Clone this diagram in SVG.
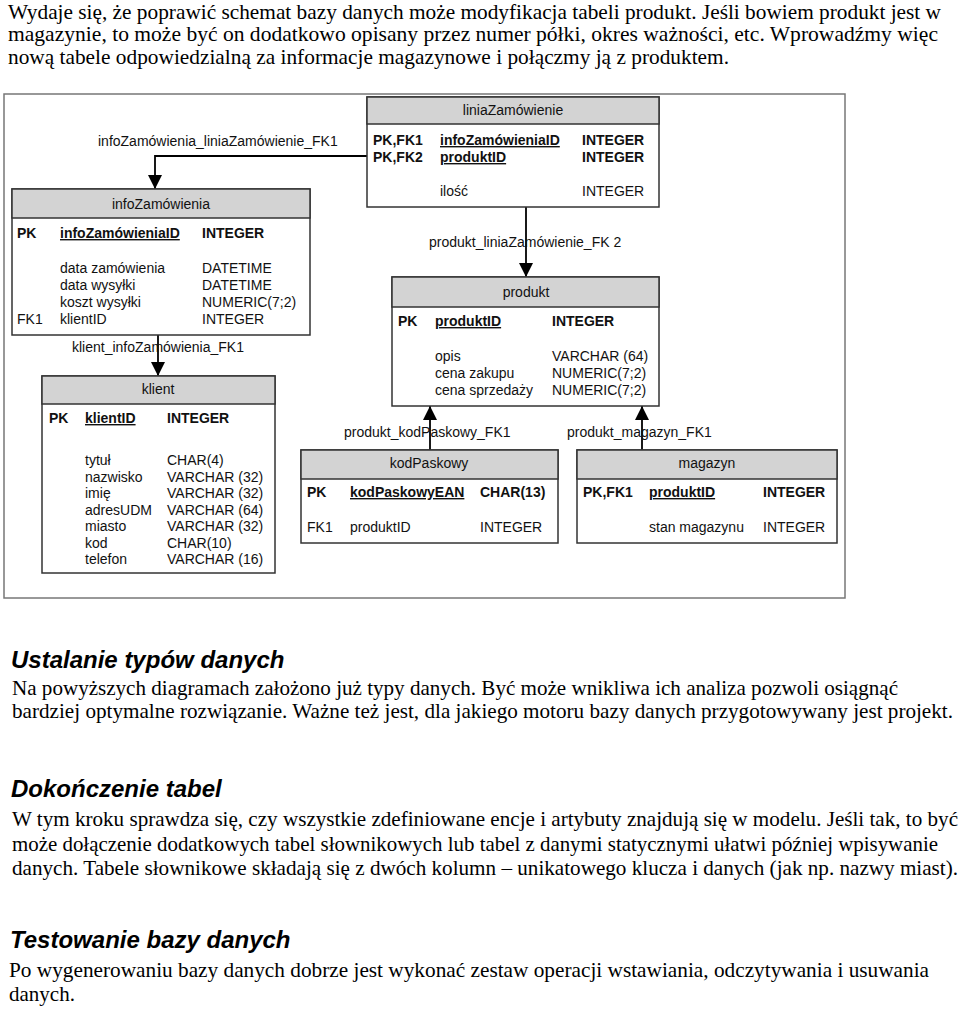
<svg xmlns="http://www.w3.org/2000/svg" width="960" height="1011" viewBox="0 0 960 1011">
<defs>
<style>
.frame{fill:none;stroke:#777;stroke-width:1.5}
.box{fill:#fff;stroke:#333;stroke-width:1.5}
.hdr{fill:#d3d3d3;stroke:#333;stroke-width:1.5}
.t{font-family:"Liberation Sans",Arial,sans-serif;font-size:14px;fill:#111}
.b{font-weight:bold}
.u{text-decoration:underline}
.c{text-anchor:middle}
.p{font-family:"Liberation Serif","Times New Roman",serif;font-size:21px;fill:#000}
.h{font-family:"Liberation Sans",Arial,sans-serif;font-size:24px;font-weight:bold;font-style:italic;fill:#000}
.conn{fill:none;stroke:#000;stroke-width:1.8}
</style>
<marker id="arr" viewBox="0 0 14 14" refX="14" refY="7" markerWidth="14" markerHeight="14" markerUnits="userSpaceOnUse" orient="auto">
<path d="M0,0 L14,7 L0,14 z" fill="#000"/>
</marker>
</defs>
<rect width="960" height="1011" fill="#fff"/>

<g id="intro">
<text class="p" x="8" y="19" textLength="933" lengthAdjust="spacingAndGlyphs">Wydaje się, że poprawić schemat bazy danych może modyfikacja tabeli produkt. Jeśli bowiem produkt jest w</text>
<text class="p" x="8" y="41" textLength="930" lengthAdjust="spacingAndGlyphs">magazynie, to może być on dodatkowo opisany przez numer półki, okres ważności, etc. Wprowadźmy więc</text>
<text class="p" x="8" y="64" textLength="721" lengthAdjust="spacingAndGlyphs">nową tabele odpowiedzialną za informacje magazynowe i połączmy ją z produktem.</text>
</g>

<rect class="frame" x="4" y="94" width="841" height="504"/>

<g id="connectors">
<path class="conn" d="M367,156 H155 V189" marker-end="url(#arr)"/>
<text class="t" x="98" y="146">infoZamówienia_liniaZamówienie_FK1</text>
<path class="conn" d="M526,207 V277" marker-end="url(#arr)"/>
<text class="t" x="429" y="247">produkt_liniaZamówienie_FK 2</text>
<path class="conn" d="M158,335 V376" marker-end="url(#arr)"/>
<text class="t" x="72" y="352">klient_infoZamówienia_FK1</text>
<path class="conn" d="M430,450 V406" marker-end="url(#arr)"/>
<text class="t" x="344" y="437">produkt_kodPaskowy_FK1</text>
<path class="conn" d="M642,450 V406" marker-end="url(#arr)"/>
<text class="t" x="567" y="437">produkt_magazyn_FK1</text>
</g>

<g id="liniaZamowienie">
<rect class="box" x="367" y="97" width="292" height="110"/>
<rect class="hdr" x="367" y="97" width="292" height="27"/>
<text class="t c" x="513" y="115">liniaZamówienie</text>
<text class="t b" x="373" y="145">PK,FK1</text>
<text class="t b u" x="440" y="145">infoZamówieniaID</text>
<text class="t b" x="582" y="145">INTEGER</text>
<text class="t b" x="373" y="162">PK,FK2</text>
<text class="t b u" x="440" y="162">produktID</text>
<text class="t b" x="582" y="162">INTEGER</text>
<text class="t" x="440" y="196">ilość</text>
<text class="t" x="582" y="196">INTEGER</text>
</g>

<g id="infoZamowienia">
<rect class="box" x="12" y="189" width="298" height="146"/>
<rect class="hdr" x="12" y="189" width="298" height="29"/>
<text class="t c" x="161" y="209">infoZamówienia</text>
<text class="t b" x="17" y="238">PK</text>
<text class="t b u" x="60" y="238">infoZamówieniaID</text>
<text class="t b" x="202" y="238">INTEGER</text>
<text class="t" x="60" y="273">data zamówienia</text>
<text class="t" x="202" y="273">DATETIME</text>
<text class="t" x="60" y="290">data wysyłki</text>
<text class="t" x="202" y="290">DATETIME</text>
<text class="t" x="60" y="307">koszt wysyłki</text>
<text class="t" x="202" y="307">NUMERIC(7;2)</text>
<text class="t" x="17" y="324">FK1</text>
<text class="t" x="60" y="324">klientID</text>
<text class="t" x="202" y="324">INTEGER</text>
</g>

<g id="produkt">
<rect class="box" x="392" y="277" width="267" height="129"/>
<rect class="hdr" x="392" y="277" width="267" height="30"/>
<text class="t c" x="526" y="297">produkt</text>
<text class="t b" x="398" y="326">PK</text>
<text class="t b u" x="435" y="326">produktID</text>
<text class="t b" x="552" y="326">INTEGER</text>
<text class="t" x="435" y="361">opis</text>
<text class="t" x="552" y="361">VARCHAR (64)</text>
<text class="t" x="435" y="378">cena zakupu</text>
<text class="t" x="552" y="378">NUMERIC(7;2)</text>
<text class="t" x="435" y="395">cena sprzedaży</text>
<text class="t" x="552" y="395">NUMERIC(7;2)</text>
</g>

<g id="klient">
<rect class="box" x="42" y="376" width="233" height="197"/>
<rect class="hdr" x="42" y="376" width="233" height="28"/>
<text class="t c" x="158" y="394">klient</text>
<text class="t b" x="49" y="423">PK</text>
<text class="t b u" x="85" y="423">klientID</text>
<text class="t b" x="167" y="423">INTEGER</text>
<text class="t" x="85" y="465">tytuł</text>
<text class="t" x="167" y="465">CHAR(4)</text>
<text class="t" x="85" y="481.5">nazwisko</text>
<text class="t" x="167" y="481.5">VARCHAR (32)</text>
<text class="t" x="85" y="498">imię</text>
<text class="t" x="167" y="498">VARCHAR (32)</text>
<text class="t" x="85" y="514.5">adresUDM</text>
<text class="t" x="167" y="514.5">VARCHAR (64)</text>
<text class="t" x="85" y="531">miasto</text>
<text class="t" x="167" y="531">VARCHAR (32)</text>
<text class="t" x="85" y="547.5">kod</text>
<text class="t" x="167" y="547.5">CHAR(10)</text>
<text class="t" x="85" y="564">telefon</text>
<text class="t" x="167" y="564">VARCHAR (16)</text>
</g>

<g id="kodPaskowy">
<rect class="box" x="301" y="450" width="257" height="93"/>
<rect class="hdr" x="301" y="450" width="257" height="29"/>
<text class="t c" x="429" y="468">kodPaskowy</text>
<text class="t b" x="307" y="497">PK</text>
<text class="t b u" x="350" y="497">kodPaskowyEAN</text>
<text class="t b" x="480" y="497">CHAR(13)</text>
<text class="t" x="307" y="532">FK1</text>
<text class="t" x="350" y="532">produktID</text>
<text class="t" x="480" y="532">INTEGER</text>
</g>

<g id="magazyn">
<rect class="box" x="577" y="450" width="260" height="93"/>
<rect class="hdr" x="577" y="450" width="260" height="29"/>
<text class="t c" x="707" y="468">magazyn</text>
<text class="t b" x="583" y="497">PK,FK1</text>
<text class="t b u" x="649" y="497">produktID</text>
<text class="t b" x="763" y="497">INTEGER</text>
<text class="t" x="649" y="532">stan magazynu</text>
<text class="t" x="763" y="532">INTEGER</text>
</g>

<g id="sections">
<text class="h" x="11" y="668">Ustalanie typów danych</text>
<text class="p" x="12" y="695" textLength="886" lengthAdjust="spacingAndGlyphs">Na powyższych diagramach założono już typy danych. Być może wnikliwa ich analiza pozwoli osiągnąć</text>
<text class="p" x="12" y="718" textLength="941" lengthAdjust="spacingAndGlyphs">bardziej optymalne rozwiązanie. Ważne też jest, dla jakiego motoru bazy danych przygotowywany jest projekt.</text>
<text class="h" x="11" y="797">Dokończenie tabel</text>
<text class="p" x="12" y="826" textLength="946" lengthAdjust="spacingAndGlyphs">W tym kroku sprawdza się, czy wszystkie zdefiniowane encje i artybuty znajdują się w modelu. Jeśli tak, to być</text>
<text class="p" x="12" y="851" textLength="926" lengthAdjust="spacingAndGlyphs">może dołączenie dodatkowych tabel słownikowych lub tabel z danymi statycznymi ułatwi później wpisywanie</text>
<text class="p" x="12" y="875" textLength="946" lengthAdjust="spacingAndGlyphs">danych. Tabele słownikowe składają się z dwóch kolumn – unikatowego klucza i danych (jak np. nazwy miast).</text>
<text class="h" x="10" y="948">Testowanie bazy danych</text>
<text class="p" x="9" y="977" textLength="920" lengthAdjust="spacingAndGlyphs">Po wygenerowaniu bazy danych dobrze jest wykonać zestaw operacji wstawiania, odczytywania i usuwania</text>
<text class="p" x="9" y="1001">danych.</text>
</g>
</svg>
